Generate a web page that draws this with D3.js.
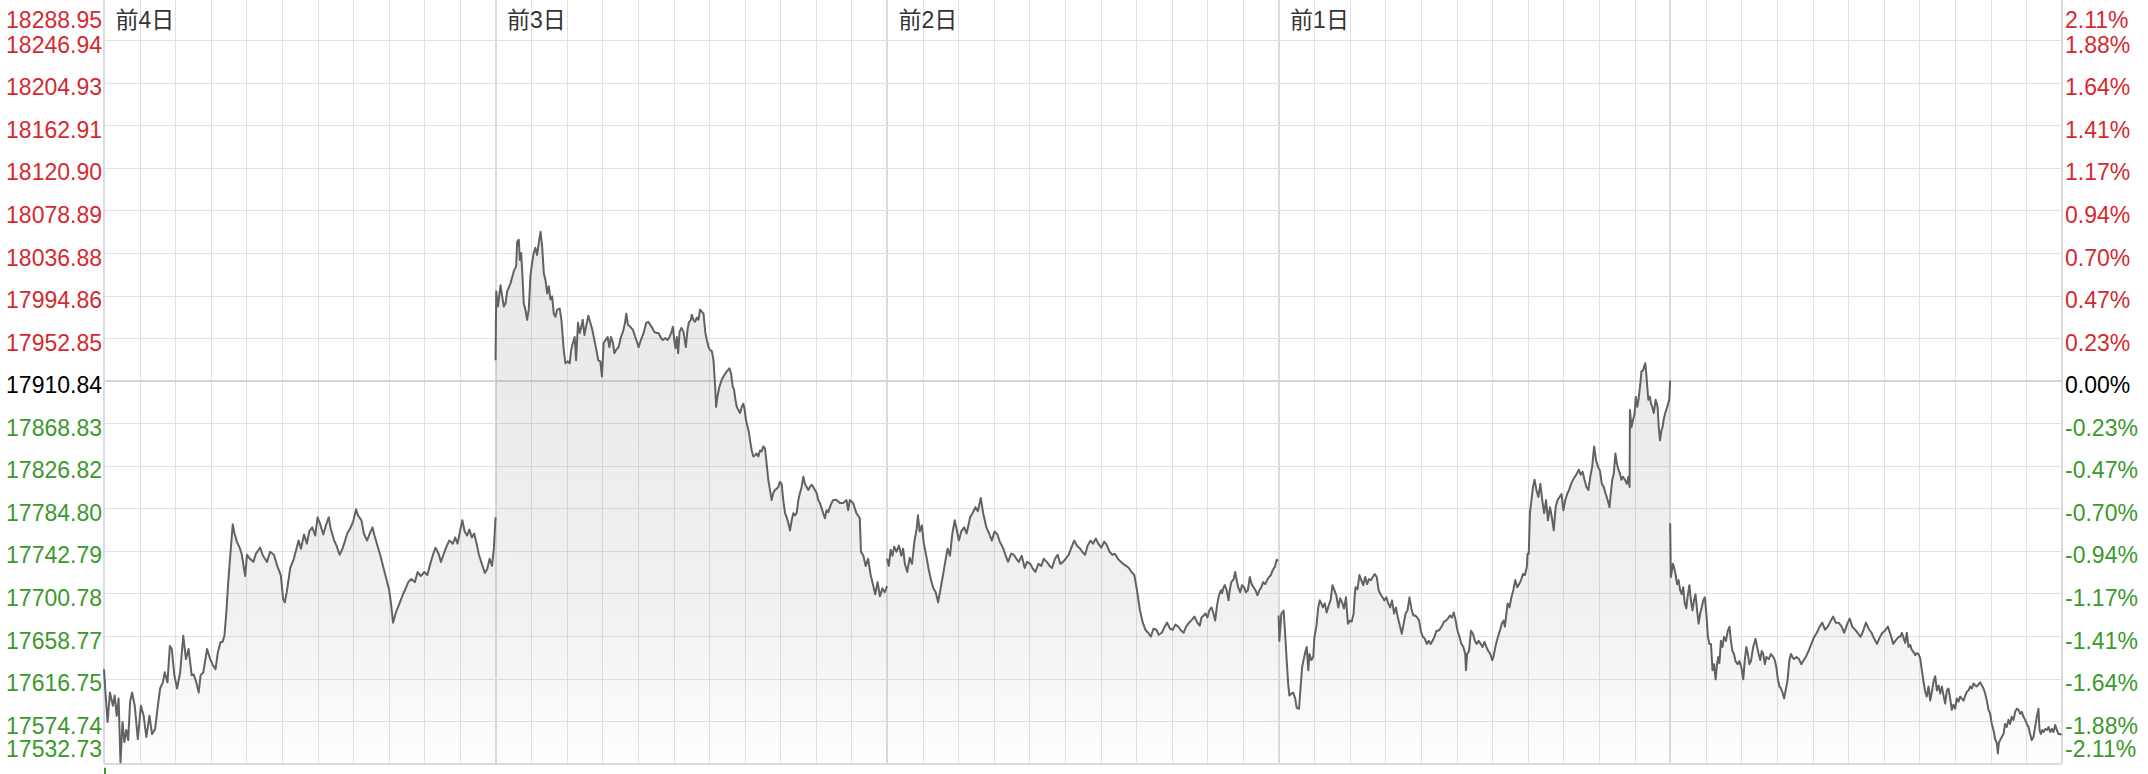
<!DOCTYPE html>
<html><head><meta charset="utf-8">
<script src="https://cdn.jsdelivr.net/npm/d3@7"></script>
<style>html,body{margin:0;padding:0;background:#fff;overflow:hidden}</style>
</head><body><svg id="c" width="2148" height="774"></svg>
<script>
const prevClose = 17910.84;
const leftLabels = ["17532.73","17574.74","17616.75","17658.77","17700.78","17742.79","17784.80","17826.82","17868.83","17910.84","17952.85","17994.86","18036.88","18078.89","18120.90","18162.91","18204.93","18246.94","18288.95"];
const rightLabels = ["-2.11%","-1.88%","-1.64%","-1.41%","-1.17%","-0.94%","-0.70%","-0.47%","-0.23%","0.00%","0.23%","0.47%","0.70%","0.94%","1.17%","1.41%","1.64%","1.88%","2.11%"];
const dayLabels = ["前4日","前3日","前2日","前1日",""];
const minutesPerDay = 330;   // HK session: 9:30-12:00 + 13:00-16:00
const gridStep = 30;

// [minute of session, index value]
const day0 = [[0,17626],[1,17607],[3,17574],[5,17603],[7.5,17590],[9,17600],[10.7,17580],[12.3,17597],[13.9,17534],[15.6,17574],[17.2,17554],[18.8,17566],[20.4,17556],[22,17594],[23.7,17603],[25.9,17590],[28.5,17557],[31.1,17590],[33.4,17580],[35.7,17559],[38.3,17580],[40.5,17562],[43.1,17567],[45.4,17590],[47.3,17607],[49.6,17613],[51.2,17623],[53.5,17613],[55.5,17649],[57.1,17646],[59.3,17620],[61.6,17607],[64.2,17623],[66.8,17659],[69.1,17636],[71.3,17646],[73.9,17620],[75.6,17621],[77.8,17613],[79.8,17603],[81.4,17620],[83.7,17623],[86.9,17646],[89.5,17636],[91.8,17630],[94,17626],[96,17643],[98.3,17653],[99.9,17653],[101.5,17659],[103.1,17682],[104.7,17712],[106.4,17738],[108.5,17769],[110,17760],[112,17752],[114.3,17746],[116,17740],[119,17718],[120.5,17739],[123,17735],[125.9,17732],[128,17740],[131.6,17746],[134,17738],[137.4,17732],[140,17742],[143.2,17739],[146,17728],[149,17719],[151,17695],[152.4,17692],[154,17702],[157,17726],[160,17735],[164,17753],[166,17745],[168.6,17759],[171,17750],[173,17762],[175.5,17766],[178,17758],[180,17776],[182,17770],[184.8,17759],[187,17768],[189.4,17776],[191,17765],[194,17753],[196,17748],[198.6,17739],[201,17745],[203.2,17753],[205,17760],[207.9,17766],[210,17772],[212.5,17784],[214,17778],[217,17773],[219,17760],[221.7,17753],[224,17760],[226.3,17766],[228,17758],[231,17746],[233,17738],[235.6,17726],[238,17715],[240.2,17705],[242,17690],[243.6,17672],[246,17682],[249.4,17692],[252,17700],[254,17705],[256.4,17712],[259,17715],[262,17712],[264.4,17722],[267,17718],[270,17722],[272.5,17719],[275,17730],[277,17738],[279.4,17746],[282,17740],[284,17732],[287,17742],[289,17748],[291,17753],[294,17750],[296,17756],[298,17750],[300,17762],[302,17773],[304,17762],[306,17758],[308,17764],[310,17756],[312,17760],[314,17750],[316,17739],[319,17728],[321,17721],[323,17725],[325,17735],[327,17728],[328.5,17744],[330,17776]];
const day1 = [[0,17931],[0.6,17999],[2,17984],[4.2,18005],[5.6,17994],[7,17984],[8.4,17987],[9.8,17999],[12.6,18007],[15.4,18019],[17.4,18024],[18.2,18048],[19.6,18050],[20.5,18030],[21.6,18037],[22.7,18014],[23.8,17987],[25.2,17981],[26.6,17971],[28,17981],[29.4,18014],[30.8,18027],[32.2,18037],[33.6,18042],[35,18035],[36.5,18047],[37.9,18058],[39.3,18043],[40.7,18017],[42.1,18010],[43.5,17997],[44.9,18004],[46.3,17991],[47.7,17994],[49.1,17977],[50.5,17974],[51.9,17981],[54.1,17982],[55.5,17971],[57.5,17941],[58.9,17928],[60.8,17930],[62.5,17928],[63.7,17941],[65.1,17948],[66.7,17954],[67.9,17931],[69.5,17968],[70.9,17958],[72.1,17963],[73.5,17971],[74.9,17956],[76.6,17966],[78.2,17975],[79.9,17968],[81.6,17961],[83.3,17951],[85,17941],[86.6,17931],[88.3,17930],[89.7,17915],[91.1,17948],[92.8,17951],[94.5,17954],[95.9,17944],[97.3,17954],[99,17948],[100.1,17938],[101.5,17941],[103.7,17944],[105.7,17954],[107.4,17959],[109.1,17968],[110.2,17977],[111.6,17966],[113.6,17964],[115.8,17961],[117.8,17954],[119.2,17949],[120.6,17944],[122.5,17951],[124.8,17958],[127,17968],[128.7,17969],[130.4,17966],[132.1,17963],[133.8,17959],[135.4,17958],[137.4,17958],[139.4,17953],[141,17951],[143,17953],[145,17951],[146.6,17954],[148,17958],[149.5,17964],[150.6,17951],[151.7,17943],[152.8,17954],[153.9,17938],[155.1,17959],[156.7,17963],[158.4,17959],[160.4,17944],[161.8,17961],[162.9,17968],[164.6,17971],[165.4,17976],[166.8,17971],[168.2,17969],[169.6,17973],[171,17971],[172.4,17981],[173.8,17979],[175.3,17977],[176.7,17959],[178.1,17951],[179.5,17944],[180.9,17941],[182.3,17940],[183.7,17931],[185.1,17905],[185.9,17885],[187,17895],[188.7,17905],[190.7,17912],[192.6,17916],[194.9,17920],[197.1,17923],[198.5,17918],[199.9,17905],[201,17902],[202.2,17892],[203.3,17885],[204.7,17882],[206.1,17879],[207.5,17885],[208.9,17888],[210,17882],[211.1,17872],[212.5,17865],[213.7,17859],[214.5,17852],[215.9,17842],[217.3,17836],[218.7,17837],[220.1,17839],[221.5,17836],[222.9,17842],[224.3,17841],[225.7,17846],[227.1,17844],[228.5,17829],[229.9,17813],[231.3,17803],[232.7,17793],[234.1,17800],[235.5,17803],[236.9,17804],[238.3,17806],[239.7,17811],[241.1,17809],[242.5,17793],[244,17780],[245.4,17776],[246.8,17770],[248.2,17763],[249.6,17773],[251,17780],[252.4,17778],[253.8,17780],[255.2,17793],[256.6,17800],[258,17806],[259.4,17816],[260.8,17809],[262.2,17806],[263.6,17803],[265,17806],[266.4,17808],[267.8,17806],[269.2,17803],[270.6,17800],[272,17793],[273.4,17790],[274.8,17785],[276.2,17780],[277.6,17775],[279,17783],[280.4,17781],[281.8,17786],[283.2,17790],[284.6,17793],[287.4,17793],[290.2,17790],[293,17790],[295.8,17793],[297.2,17783],[298.6,17793],[301.4,17790],[304.2,17780],[307,17775],[308,17742],[310,17738],[312,17728],[314,17735],[316,17720],[318,17710],[320,17700],[322,17712],[324,17698],[326,17706],[328,17702],[330,17708]];
const day2 = [[0,17735],[1.5,17728],[3,17744],[4.5,17738],[6,17747],[8,17742],[10,17748],[12,17738],[13.5,17745],[15,17730],[17,17722],[19,17736],[21,17730],[23,17752],[25,17765],[26,17778],[27.5,17762],[29.3,17768],[31,17750],[33,17738],[35,17725],[37,17714],[39,17706],[41,17702],[43,17692],[45,17705],[47,17718],[49,17732],[51,17745],[53,17738],[55,17760],[57,17773],[59,17762],[60.5,17753],[62.5,17762],[65,17766],[67,17760],[70,17776],[72,17780],[74.5,17786],[76.5,17782],[79,17795],[81,17780],[83.7,17766],[86,17760],[88.3,17753],[90.5,17762],[93,17759],[95,17752],[97.6,17746],[100,17738],[102,17732],[104.5,17740],[106.8,17739],[109,17735],[111,17732],[113.5,17738],[116,17726],[118,17732],[120.7,17730],[123,17725],[125,17722],[127.5,17730],[130,17728],[132,17735],[134.6,17732],[137,17728],[139,17726],[141.5,17735],[143.8,17739],[146,17730],[148.4,17732],[151,17736],[153,17739],[155,17745],[157.7,17753],[160,17748],[162,17746],[164.5,17742],[166.9,17739],[169,17748],[171.5,17753],[173.5,17750],[176,17755],[178,17750],[180.6,17746],[183,17752],[185,17749],[187.5,17742],[189.9,17739],[192,17740],[194.5,17735],[197,17732],[199,17730],[201.5,17728],[203.8,17726],[206,17722],[208.4,17719],[210.5,17705],[213,17685],[215.5,17672],[217.7,17665],[220,17662],[222.3,17658],[224.5,17666],[227,17665],[229,17660],[231.5,17662],[234,17668],[236,17672],[238.5,17666],[240.8,17665],[243,17670],[245.4,17668],[248,17664],[250,17662],[252,17668],[254.6,17672],[257,17675],[259,17678],[261.5,17672],[263.5,17669],[265,17677],[266.8,17679],[268.4,17681],[270,17677],[271.6,17684],[273.3,17687],[274.9,17682],[276.5,17674],[278.1,17689],[279.7,17699],[281.4,17704],[282.3,17701],[283.6,17707],[284.6,17709],[286.2,17704],[287.8,17694],[288.8,17704],[290.1,17712],[292.1,17715],[293.4,17722],[294.6,17714],[295.9,17707],[297.6,17702],[299.2,17709],[300.8,17707],[302.4,17702],[304.1,17704],[305.7,17717],[307.3,17710],[308.9,17707],[310.5,17704],[312.2,17699],[313.8,17704],[315.4,17707],[317,17712],[318.7,17710],[320.3,17714],[321.9,17717],[323.5,17719],[325.1,17724],[326.8,17727],[328.4,17734],[329.6,17733]];
const day3 = [[0,17679],[0.6,17654],[2.3,17681],[4.2,17684],[5.5,17661],[6.8,17635],[8.1,17611],[9.1,17600],[10.7,17602],[12.3,17603],[14,17597],[15.2,17588],[17.2,17587],[18.5,17608],[19.8,17628],[21,17635],[22.7,17644],[23.7,17648],[25,17625],[26,17641],[27.6,17635],[29.2,17638],[30.2,17658],[31.8,17668],[33.4,17687],[34.7,17694],[36,17691],[37.3,17687],[38.9,17691],[40.5,17682],[42.2,17689],[43.8,17694],[45.4,17709],[47,17704],[48.6,17699],[50.3,17687],[51.9,17696],[53.5,17692],[55.1,17686],[56.8,17697],[58.4,17671],[60,17674],[61.6,17673],[63.2,17681],[64.2,17700],[64.9,17707],[66.5,17705],[68.1,17719],[69.7,17714],[71.3,17709],[73,17717],[74.6,17710],[76.2,17715],[77.8,17714],[79.4,17717],[81,17720],[82.7,17717],[84.3,17704],[85.9,17700],[87.5,17697],[89.2,17694],[90.8,17697],[92.4,17691],[94,17687],[95.6,17694],[97.3,17681],[98.9,17687],[100.5,17677],[102.2,17669],[103.8,17661],[105.4,17671],[107,17681],[108.6,17684],[110.3,17697],[111.9,17686],[113.5,17679],[115.1,17679],[116.8,17677],[118.4,17674],[120,17663],[121.6,17658],[123.3,17656],[124.9,17651],[126.5,17654],[128.1,17651],[129.7,17654],[131.4,17658],[133,17664],[134.6,17664],[136.2,17666],[137.8,17669],[139.5,17673],[141.1,17674],[142.7,17676],[144.3,17679],[145.9,17677],[147.6,17682],[149.2,17674],[150.8,17664],[152.4,17658],[154.1,17651],[155.7,17648],[157.3,17641],[157.9,17625],[158.9,17641],[160.5,17644],[162.1,17664],[163.8,17661],[165.4,17654],[167,17651],[168.6,17654],[170.3,17651],[171.9,17648],[173.5,17653],[175.1,17648],[176.7,17644],[178.4,17641],[180,17635],[181,17638],[182,17644],[183.2,17651],[184.9,17658],[186.5,17664],[188.1,17671],[189.7,17674],[190.7,17668],[192,17681],[193,17691],[194.6,17687],[196.2,17697],[197.8,17704],[199.4,17714],[201.1,17707],[202.7,17710],[204.3,17714],[205.9,17720],[207.6,17719],[209.2,17727],[209.8,17740],[210.8,17740],[211.8,17780],[213.1,17793],[214.4,17806],[215.7,17813],[217.3,17803],[218.9,17796],[220.6,17809],[222.2,17793],[223.8,17780],[225.4,17793],[227,17773],[228.7,17786],[230.3,17776],[231.9,17763],[233.5,17786],[235.1,17793],[236.8,17796],[238.4,17799],[240,17783],[241.6,17793],[243.2,17799],[244.8,17803],[246.5,17809],[248.1,17813],[249.7,17816],[251.3,17819],[253,17823],[254.6,17818],[256.2,17821],[257.8,17813],[259.4,17806],[261.1,17803],[262.7,17816],[264.3,17826],[265.9,17846],[267.6,17832],[269.2,17826],[270.8,17822],[272.4,17809],[274,17806],[275.7,17799],[277.3,17793],[278.9,17786],[279.9,17799],[281.2,17813],[282.5,17819],[283.8,17839],[285.1,17829],[286.4,17823],[287.7,17819],[288.9,17813],[290.2,17816],[291.9,17813],[293.5,17809],[294.8,17816],[295.8,17806],[296.1,17882],[297.4,17865],[298.7,17872],[300,17878],[301,17895],[302.3,17885],[303.3,17892],[304.9,17908],[305.8,17920],[307.1,17921],[308.1,17925],[309,17928],[309.7,17920],[310.7,17905],[311.6,17892],[312.9,17895],[313.9,17888],[314.9,17885],[316.2,17879],[317.8,17892],[319.4,17885],[320.4,17865],[321.4,17852],[322.7,17862],[323.6,17865],[324.6,17873],[325.9,17879],[327.5,17885],[329.2,17892],[330,17911]];
const day4 = [[0,17770],[0.6,17717],[2.3,17730],[3.2,17727],[4.5,17720],[5.8,17710],[7.1,17714],[8.4,17704],[9.7,17700],[11,17707],[12.3,17691],[13.6,17686],[14.6,17697],[16.2,17709],[17.5,17694],[18.8,17684],[20.1,17694],[21.4,17700],[22.7,17684],[24,17671],[25.3,17681],[26.6,17687],[27.9,17694],[29.2,17697],[30.8,17677],[31.8,17658],[33.1,17651],[34.4,17651],[35.7,17625],[37,17631],[38.3,17616],[39.6,17632],[40.5,17638],[41.5,17632],[42.8,17654],[44.1,17648],[45.4,17658],[47,17654],[48.6,17664],[50,17668],[51.2,17654],[52.5,17644],[53.8,17641],[55.1,17634],[56.8,17631],[58.4,17634],[60,17628],[61.6,17616],[62.9,17635],[64.2,17648],[65.5,17641],[66.8,17631],[68.1,17634],[70,17648],[72,17656],[73.3,17648],[74.6,17641],[75.9,17635],[77.2,17644],[78.5,17641],[79.8,17631],[81.1,17638],[83.1,17636],[85,17641],[86.9,17638],[88.2,17635],[89.5,17628],[90.8,17616],[92.1,17609],[93.4,17607],[94.7,17603],[96,17597],[97.3,17605],[98.9,17615],[100.5,17635],[101.8,17641],[103.1,17638],[104.4,17636],[106.4,17638],[108.6,17636],[110.5,17631],[114.3,17638],[117,17645],[119,17651],[121,17657],[123.6,17662],[126,17668],[128.2,17672],[130.5,17665],[132.8,17668],[135,17673],[137.4,17678],[139.5,17672],[142,17672],[144.5,17668],[146.7,17662],[149,17670],[151.3,17676],[153.5,17668],[155.9,17665],[158,17662],[160.5,17658],[162.7,17664],[165,17672],[167.3,17666],[169.7,17662],[172,17656],[174.3,17651],[176.5,17657],[178.9,17662],[181,17664],[183.5,17668],[185.8,17660],[188,17651],[190.4,17655],[192.6,17658],[193.9,17658],[195.3,17662],[196.7,17657],[198.1,17652],[199.5,17662],[200.9,17648],[202.3,17650],[203.7,17645],[205.1,17643],[206.5,17640],[207.9,17642],[209.3,17641],[210.7,17637],[212.1,17625],[213.5,17614],[214.9,17604],[216.3,17599],[217.8,17609],[219.2,17595],[220.6,17604],[222,17614],[223.4,17619],[224.8,17605],[226.2,17610],[227.6,17602],[229,17609],[230.4,17600],[231.8,17592],[233.2,17605],[234.6,17607],[236,17597],[237.4,17586],[238.8,17591],[240.2,17587],[241.6,17597],[243,17594],[244.4,17599],[245.8,17597],[247.3,17595],[248.7,17600],[250.1,17604],[251.5,17605],[252.9,17609],[254.3,17607],[255.7,17612],[257.1,17610],[258.5,17609],[259.9,17611],[261.3,17613],[262.7,17610],[264.1,17607],[265.5,17602],[266.9,17595],[268.3,17586],[269.7,17582],[271.1,17572],[272.5,17566],[273.9,17557],[275.3,17553],[276.2,17543],[277,17553],[278.1,17556],[279.5,17559],[280.9,17562],[282.3,17572],[283.7,17569],[285.1,17576],[286.5,17572],[287.9,17579],[289.4,17576],[290.8,17584],[292.2,17587],[293.6,17586],[295,17582],[296.4,17584],[297.8,17579],[299.2,17576],[300.6,17572],[302,17569],[303.4,17562],[304.8,17556],[306.2,17559],[307.6,17569],[309,17579],[310.4,17587],[311.3,17566],[312.4,17562],[313.6,17566],[314.7,17564],[316.1,17567],[317.5,17566],[318.9,17569],[320.3,17564],[321.7,17567],[323.1,17564],[324.5,17571],[325.9,17566],[327.3,17562],[328.7,17562],[329.8,17561]];
const days = [day0, day1, day2, day3, day4];

const W = 2148, H = 774;
const plot = {left: 104, right: 2061.7, top: -2.3, bottom: 763.7};
const svg = d3.select('#c');

const x = d3.scaleLinear().domain([0, minutesPerDay * days.length]).range([plot.left, plot.right]);
const tickVals = leftLabels.map(Number);
const y = d3.scaleLinear().domain([tickVals[0], tickVals[tickVals.length - 1]]).range([plot.bottom, plot.top]);

const defs = svg.append('defs');
const grad = defs.append('linearGradient').attr('id', 'fillGrad')
  .attr('gradientUnits', 'userSpaceOnUse').attr('x1', 0).attr('x2', 0)
  .attr('y1', plot.top).attr('y2', plot.bottom);
[[0, 0.18], [0.5, 0.16], [0.8, 0.11], [1, 0.01]].forEach(([o, a]) =>
  grad.append('stop').attr('offset', o).attr('stop-color', '#808080').attr('stop-opacity', a));

// grid
const g = svg.append('g');
const crisp = v => Math.round(v) + 0.5;
d3.range(0, minutesPerDay * days.length + 1, gridStep).forEach(m => {
  const isDay = m % minutesPerDay === 0;
  const xx = isDay ? Math.round(x(m)) : crisp(x(m));
  g.append('line').attr('x1', xx).attr('x2', xx).attr('y1', 0).attr('y2', plot.bottom)
    .attr('stroke', isDay ? '#dadae0' : '#e0e0e6').attr('stroke-width', isDay ? 2 : 1);
});
tickVals.forEach((v, i) => {
  if (i === tickVals.length - 1) return;
  const isBase = Math.abs(v - prevClose) < 0.01;
  const isBottom = i === 0;
  const yy = (isBase || isBottom) ? Math.round(y(v)) : crisp(y(v));
  g.append('line').attr('x1', plot.left).attr('x2', plot.right).attr('y1', yy).attr('y2', yy)
    .attr('stroke', isBase ? '#d4d4dc' : (isBottom ? '#dadae0' : '#e0e0e6'))
    .attr('stroke-width', (isBase || isBottom) ? 2 : 1);
});

// area + line per day
days.forEach((data, d) => {
  const area = d3.area().x(p => x(d * minutesPerDay + p[0])).y0(plot.bottom).y1(p => y(p[1]));
  const line = d3.line().x(p => x(d * minutesPerDay + p[0])).y(p => y(p[1]));
  svg.append('path').datum(data).attr('d', area).attr('fill', 'url(#fillGrad)');
  svg.append('path').datum(data).attr('d', line).attr('fill', 'none')
    .attr('stroke', '#626262').attr('stroke-width', 2).attr('stroke-linejoin', 'round');
});

// y labels
const font = '"Liberation Sans", Arial, "Noto Sans CJK SC", sans-serif';
const colorOf = i => i === 9 ? '#000000' : (i > 9 ? '#d42a2f' : '#3b992c');
const baseY = (i) => {
  const yy = y(tickVals[i]);
  if (i === tickVals.length - 1) return yy + 30.6;
  if (i === 0) return yy - 7;
  return yy + 12.5;
};
leftLabels.forEach((t, i) => {
  svg.append('text').attr('x', 102).attr('y', baseY(i)).attr('text-anchor', 'end')
    .attr('font-family', font).attr('font-size', 23).attr('fill', colorOf(i)).text(t);
});
rightLabels.forEach((t, i) => {
  svg.append('text').attr('x', 2065).attr('y', baseY(i)).attr('text-anchor', 'start')
    .attr('font-family', font).attr('font-size', 23).attr('fill', colorOf(i)).text(t);
});

// day labels
dayLabels.forEach((t, d) => {
  if (!t) return;
  svg.append('text').attr('x', x(d * minutesPerDay) + 11.5).attr('y', 28.3)
    .attr('font-family', font).attr('font-size', 23).attr('fill', '#333333').text(t);
});

// small green tick under the axis at the start
svg.append('line').attr('x1', x(0) + 1).attr('x2', x(0) + 1).attr('y1', plot.bottom + 4).attr('y2', H)
  .attr('stroke', '#3b992c').attr('stroke-width', 2);
</script></body></html>
